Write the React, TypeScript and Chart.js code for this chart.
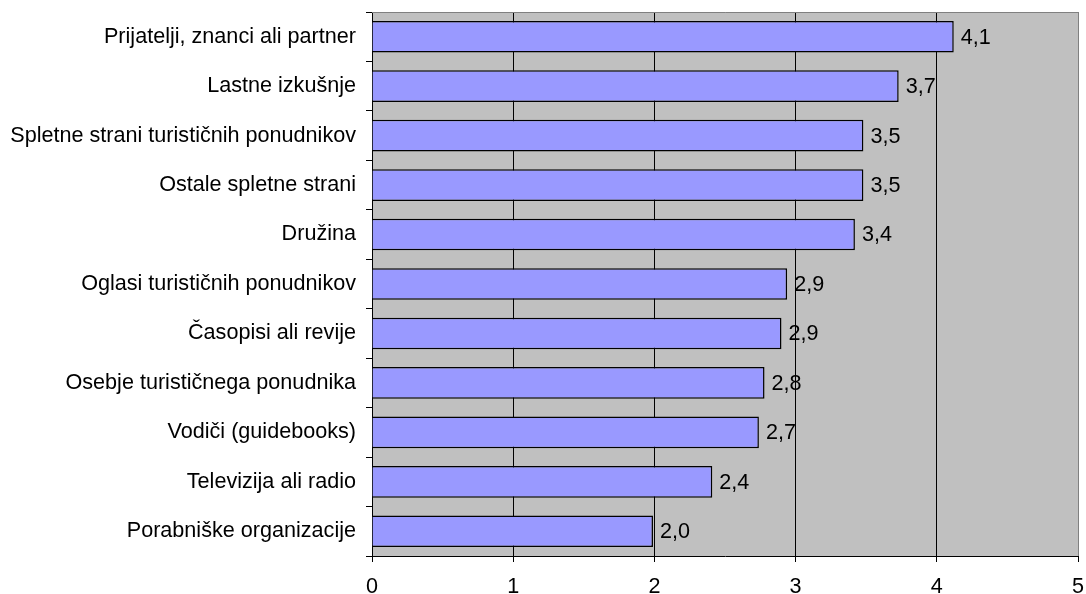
import React, { useEffect, useRef } from "react";
import { Chart, registerables } from "chart.js";

Chart.register(...registerables);

const categories = [
  "Prijatelji, znanci ali partner",
  "Lastne izkušnje",
  "Spletne strani turističnih ponudnikov",
  "Ostale spletne strani",
  "Družina",
  "Oglasi turističnih ponudnikov",
  "Časopisi ali revije",
  "Osebje turističnega ponudnika",
  "Vodiči (guidebooks)",
  "Televizija ali radio",
  "Porabniške organizacije",
];

const values = [4.12, 3.73, 3.48, 3.48, 3.42, 2.94, 2.9, 2.78, 2.74, 2.41, 1.99];

const xTicks = [0, 1, 2, 3, 4, 5];

const FONT = '"Liberation Sans", Arial, sans-serif';
const FS = 21.6;

export default function App() {
  const ref = useRef<HTMLCanvasElement | null>(null);

  useEffect(() => {
    document.body.style.margin = "0";
    const canvas = ref.current;
    if (!canvas) return;

    const bgPlugin = {
      id: "plotBg",
      beforeDraw(chart: any) {
        const { ctx, chartArea } = chart;
        ctx.save();
        ctx.fillStyle = "#C0C0C0";
        ctx.fillRect(chartArea.left, chartArea.top, chartArea.right - chartArea.left, chartArea.bottom - chartArea.top);
        ctx.restore();
      },
      afterDraw(chart: any) {
        const { ctx, chartArea } = chart;
        ctx.save();
        ctx.strokeStyle = "#808080";
        ctx.lineWidth = 1;
        ctx.beginPath();
        ctx.moveTo(chartArea.left, Math.round(chartArea.top) + 0.5);
        ctx.lineTo(Math.round(chartArea.right) + 0.5, Math.round(chartArea.top) + 0.5);
        ctx.lineTo(Math.round(chartArea.right) + 0.5, chartArea.bottom);
        ctx.stroke();
        ctx.restore();
      },
    };

    const labelPlugin = {
      id: "valueLabels",
      afterDatasetsDraw(chart: any) {
        const { ctx } = chart;
        const meta = chart.getDatasetMeta(0);
        ctx.save();
        ctx.font = `${FS}px ${FONT}`;
        ctx.fillStyle = "#000";
        ctx.textAlign = "left";
        ctx.textBaseline = "middle";
        meta.data.forEach((bar: any, i: number) => {
          const txt = values[i].toFixed(1).replace(".", ",");
          ctx.fillText(txt, bar.x + 7, bar.y + 1);
        });
        ctx.restore();
      },
    };

    const chart = new Chart(canvas, {
      type: "bar",
      data: {
        labels: categories,
        datasets: [
          {
            data: values,
            backgroundColor: "#9999FF",
            borderColor: "#000000",
            borderWidth: 1.5,
            barPercentage: 0.64,
            categoryPercentage: 1,
          },
        ],
      },
      options: {
        indexAxis: "y",
        animation: false,
        responsive: false,
        maintainAspectRatio: false,
        layout: { padding: { top: 12, right: 8, left: 0, bottom: 0 } },
        plugins: {
          legend: { display: false },
          tooltip: { enabled: false },
        },
        scales: {
          x: {
            min: 0,
            max: 5,
            afterBuildTicks(scale: any) {
              scale.ticks = xTicks.map((v) => ({ value: v }));
            },
            afterFit(scale: any) {
              scale.height = 38;
              scale.paddingLeft = 0;
              scale.paddingRight = 0;
            },
            grid: {
              color: (c: any) => (c.tick && c.tick.value === 5 ? "#808080" : "#000000"),
              tickColor: "#000000",
              tickLength: 6,
              lineWidth: 1,
            },
            border: { color: "#000000", width: 1 },
            ticks: {
              padding: 12,
              color: "#000",
              font: { family: FONT, size: FS },
              callback: (v: any) => String(v),
            },
          },
          y: {
            afterFit(scale: any) {
              scale.width = 372;
              scale.paddingTop = 0;
              scale.paddingBottom = 0;
            },
            grid: {
              drawOnChartArea: false,
              tickLength: 6,
              color: "#000000",
              offset: true,
            },
            border: { color: "#000000", width: 1 },
            ticks: {
              padding: 10,
              color: "#000",
              autoSkip: false,
              font: { family: FONT, size: FS },
            },
          },
        },
      },
      plugins: [bgPlugin, labelPlugin],
    });

    return () => chart.destroy();
  }, []);

  return (
    <div style={{ width: 1086, height: 594, position: "relative" }}>
      <canvas ref={ref} width={1086} height={594} style={{ display: "block" }} />
    </div>
  );
}
